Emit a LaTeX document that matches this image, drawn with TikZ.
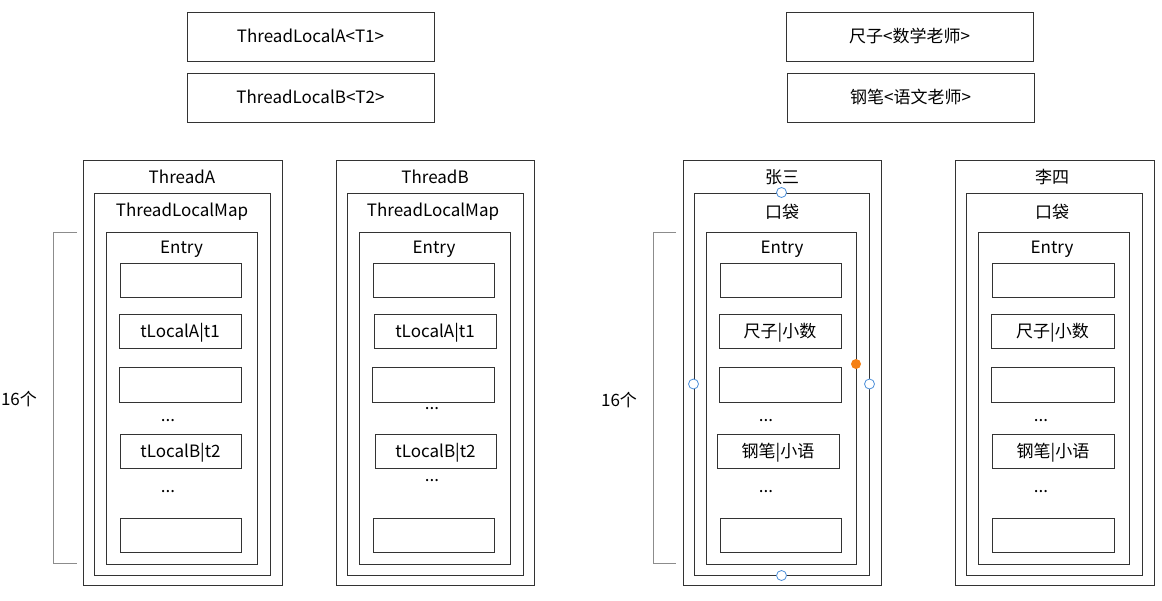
\documentclass[tikz,border=0pt]{standalone}
\usepackage{fontspec}
\setmainfont{Noto Sans CJK SC}
\usepackage{tikz}
\definecolor{gristrait}{rgb}{0.2, 0.2, 0.2}
\definecolor{grisaccol}{rgb}{0.55, 0.55, 0.55}
\definecolor{bleupoignee}{rgb}{0.3, 0.56, 0.85}
\definecolor{orangepoint}{rgb}{0.96, 0.5, 0.08}

\begin{document}
\begin{tikzpicture}[x=1pt, y=-1pt, font=\fontsize{17}{20}\selectfont]
		% STYLES
		\tikzstyle{boite} = [draw=gristrait, line width=1pt, inner sep=0pt, text depth=0pt, text height=0pt]
		\tikzstyle{case} = [boite, minimum width=121, minimum height=34]
		\tikzstyle{titre} = [inner sep=0pt]
		\tikzstyle{accolade} = [line width=1pt, draw=grisaccol]
		\tikzstyle{poignee} = [circle, draw=bleupoignee, fill=white, line width=0.8pt, inner sep=0pt, minimum size=10]

		% FOND
		\useasboundingbox (0, 0) rectangle (1162, 600);

		% THREADLOCAL
		\node[boite, minimum width=247, minimum height=49] (tlA) at (310.5, 36.5) {\raisebox{-6pt}{ThreadLocalA<T1>}};
		\node[boite, minimum width=247, minimum height=49] (tlB) at (310.5, 97.5) {\raisebox{-6pt}{ThreadLocalB<T2>}};
		\node[boite, minimum width=247, minimum height=49] (chi) at (909.5, 36.5) {\raisebox{-6pt}{尺子<数学老师>}};
		\node[boite, minimum width=247, minimum height=49] (bi) at (910.5, 97.5) {\raisebox{-6pt}{钢笔<语文老师>}};

		% THREAD A
		\node[boite, minimum width=199, minimum height=425] (thA) at (182.5, 372.5) {};
		\node[boite, minimum width=176, minimum height=382] (mapA) at (182, 384) {};
		\node[boite, minimum width=151, minimum height=332] (entA) at (181.5, 398) {};
		\node[titre] (nomA) at (182, 177) {ThreadA};
		\node[titre] (nomMapA) at (182, 212) {ThreadLocalMap};
		\node[titre] (nomEntA) at (181.5, 249) {Entry};
		\node[case] (a1) at (180.5, 280) {};
		\node[case, minimum width=122] (a2) at (180, 331) {\raisebox{-6pt}{tLocalA|t1}};
		\node[case, minimum width=122, minimum height=35] (a3) at (180, 384.5) {};
		\node[titre] (pA1) at (168, 421) {...};
		\node[case] (a4) at (180.5, 451) {\raisebox{-6pt}{tLocalB|t2}};
		\node[titre] (pA2) at (168, 492) {...};
		\node[case] (a5) at (180.5, 535) {};

		% THREAD B
		\node[boite, minimum width=198, minimum height=425] (thB) at (435, 372.5) {};
		\node[boite, minimum width=176, minimum height=382] (mapB) at (435, 384) {};
		\node[boite, minimum width=151, minimum height=332] (entB) at (434.5, 398) {};
		\node[titre] (nomB) at (435, 177) {ThreadB};
		\node[titre] (nomMapB) at (433, 212) {ThreadLocalMap};
		\node[titre] (nomEntB) at (434, 249) {Entry};
		\node[case] (b1) at (433.5, 280) {};
		\node[case, minimum width=122] (b2) at (435, 331) {\raisebox{-6pt}{tLocalA|t1}};
		\node[case, minimum width=122, minimum height=35] (b3) at (433, 384.5) {};
		\node[titre] (pB1) at (432, 409) {...};
		\node[case] (b4) at (435.5, 451) {\raisebox{-6pt}{tLocalB|t2}};
		\node[titre] (pB2) at (432, 481) {...};
		\node[case] (b5) at (433.5, 535) {};

		% ZHANG SAN
		\node[boite, minimum width=198, minimum height=425] (thC) at (782, 372.5) {};
		\node[boite, minimum width=175, minimum height=382] (mapC) at (781.5, 384) {};
		\node[boite, minimum width=150, minimum height=332] (entC) at (781, 398) {};
		\node[titre] (nomC) at (782, 177) {张三};
		\node[titre] (nomMapC) at (782, 212) {口袋};
		\node[titre] (nomEntC) at (782, 249) {Entry};
		\node[case] (c1) at (780.5, 280) {};
		\node[case, minimum width=122] (c2) at (780, 331) {\raisebox{-6pt}{尺子|小数}};
		\node[case, minimum width=122, minimum height=35] (c3) at (780, 384.5) {};
		\node[titre] (pC1) at (766, 421) {...};
		\node[case, minimum width=122] (c4) at (778, 451) {\raisebox{-6pt}{钢笔|小语}};
		\node[titre] (pC2) at (766, 492) {...};
		\node[case] (c5) at (780.5, 535) {};

		% LI SI
		\node[boite, minimum width=199, minimum height=425] (thD) at (1054.5, 372.5) {};
		\node[boite, minimum width=176, minimum height=382] (mapD) at (1054, 384) {};
		\node[boite, minimum width=151, minimum height=332] (entD) at (1053.5, 398) {};
		\node[titre] (nomD) at (1052, 177) {李四};
		\node[titre] (nomMapD) at (1052, 212) {口袋};
		\node[titre] (nomEntD) at (1052, 249) {Entry};
		\node[case, minimum width=122] (d1) at (1053, 280) {};
		\node[case, minimum width=123] (d2) at (1052.5, 331) {\raisebox{-6pt}{尺子|小数}};
		\node[case, minimum width=123, minimum height=35] (d3) at (1052.5, 384.5) {};
		\node[titre] (pD1) at (1041, 421) {...};
		\node[case, minimum width=122] (d4) at (1053, 451) {\raisebox{-6pt}{钢笔|小语}};
		\node[titre] (pD2) at (1041, 492) {...};
		\node[case, minimum width=122] (d5) at (1053, 535) {};

		% ACCOLADES : 16 ENTRY
		\draw[accolade] (77, 232) -- (53, 232) -- (53, 563) -- (77, 563);
		\node[titre] (nbA) at (19, 399) {16个};
		\draw[accolade] (676, 232) -- (653, 232) -- (653, 563) -- (676, 563);
		\node[titre] (nbC) at (619, 400) {16个};

		% POIGNEES
		\node[poignee] (hN) at (mapC.north) {};
		\node[poignee] (hS) at (mapC.south) {};
		\node[poignee] (hO) at (mapC.west) {};
		\node[poignee] (hE) at (mapC.east) {};
		\node[circle, fill=orangepoint, inner sep=0pt, minimum size=10] (hP) at (856, 364) {};

	\end{tikzpicture}
\end{document}
